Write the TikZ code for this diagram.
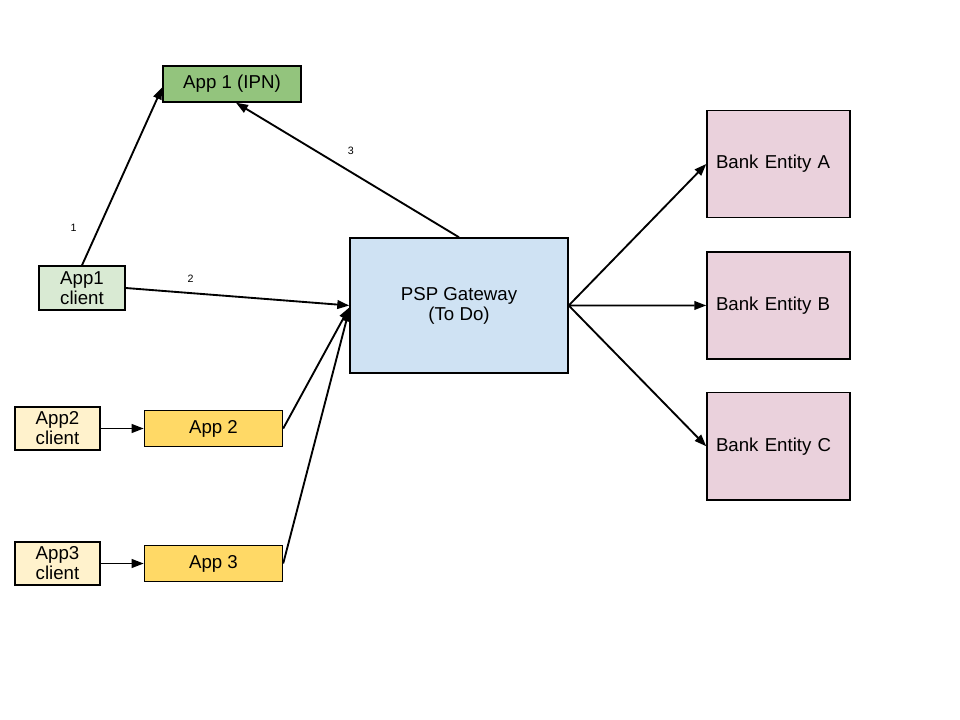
\documentclass[tikz,border=0pt]{standalone}
\usepackage{fontspec}
\setmainfont{Liberation Sans}
\usepackage{tikz}
\usetikzlibrary{arrows.meta,positioning}
\definecolor{pspGreen}{HTML}{93C47D}
\definecolor{pspLime}{HTML}{D9EAD3}
\definecolor{pspCream}{HTML}{FFF2CC}
\definecolor{pspGold}{HTML}{FFD966}
\definecolor{pspSky}{HTML}{CFE2F3}
\definecolor{pspPink}{HTML}{EAD1DC}

\begin{document}
\begin{tikzpicture}[x=0.75pt,y=-0.75pt,
   font=\fontsize{14}{15}\selectfont,
   appbox/.style={draw,line width=1.1pt,inner sep=1pt,align=center,
                  minimum width=103.5pt,minimum height=27pt},
   client/.style={appbox,fill=pspCream,minimum width=63.75pt,minimum height=32.25pt},
   bankbox/.style={draw,line width=1.1pt,fill=pspPink,inner sep=6.75pt,
                   text width=93.75pt,align=left,minimum height=80.5pt},
   arr/.style={line width=1.4pt,-{Triangle[length=9pt,width=6.5pt]}},
   lbl/.style={font=\fontsize{8}{9}\selectfont,inner sep=0pt}]
  \useasboundingbox (0,0) rectangle (960,720);
  % apps and their clients
  \node[appbox,fill=pspGreen] (ipn) at (232,84) {App 1 (IPN)};
  \node[client,fill=pspLime,minimum width=64.5pt,minimum height=33pt] (c1) at (82,288) {App1\\client};
  \node[client] (c2) at (57.5,428.5) {App2\\client};
  \node[appbox,fill=pspGold,right=32.25pt of c2] (a2) {App 2};
  \node[client] (c3) at (57.5,563.5) {App3\\client};
  \node[appbox,fill=pspGold,right=32.25pt of c3] (a3) {App 3};
  % gateway
  \node[draw,line width=1.1pt,fill=pspSky,align=center,
        minimum width=163.5pt,minimum height=101.25pt] (psp) at (459,305.5) {PSP Gateway\\(To Do)};
  % banks
  \node[bankbox] (bA) at (778.5,164) {Bank Entity A};
  \node[bankbox,below=24.5pt of bA] (bB) {Bank Entity B};
  \node[bankbox,below=24pt of bB] (bC) {Bank Entity C};

  \draw[arr] (c1.north) -- node[lbl,pos=.21,left=16pt] {1} ([yshift=-2.5pt]ipn.west);
  \draw[arr] (c1.east) -- node[lbl,pos=.29,above=7pt] {2} (psp.west);
  \draw[arr] (psp.north) -- node[lbl,pos=.485,above=12.5pt] {3} ([xshift=3pt]ipn.south);
  \draw[arr] (c2) -- (a2);
  \draw[arr] (c3) -- (a3);
  \draw[arr] (a2.east) -- ([yshift=-1.5pt]psp.west);
  \draw[arr] (a3.east) -- ([yshift=-3pt]psp.west);
  \foreach \b in {bA,bB,bC}
    \draw[arr] (psp.east) -- (\b.west);
\end{tikzpicture}
\end{document}
